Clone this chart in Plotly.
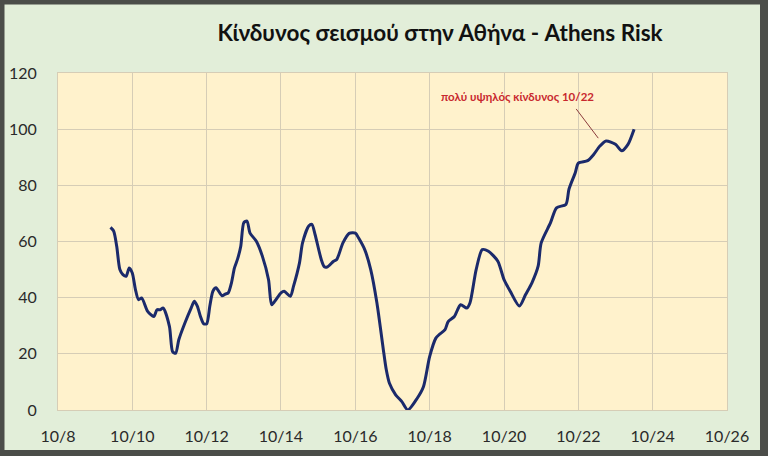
import plotly.graph_objects as go

dates = ["2010-03","2010-04","2010-05","2010-06","2010-07","2010-08","2010-09","2010-10","2010-11","2010-12",
         "2011-01","2011-03","2011-05","2011-06","2011-07","2011-08","2011-10","2011-11","2011-12",
         "2012-01","2012-03","2012-05","2012-06","2012-07","2012-08","2012-09","2012-10","2012-11","2012-12",
         "2013-01","2013-03","2013-04","2013-05","2013-06","2013-07","2013-08","2013-09","2013-10","2013-11","2013-12",
         "2014-02","2014-04","2014-06","2014-07","2014-08","2014-10","2014-11",
         "2015-01","2015-02","2015-04","2015-05","2015-07","2015-08","2015-09","2015-11","2015-12",
         "2016-01","2016-03","2016-04","2016-06","2016-08","2016-10","2016-11",
         "2017-01","2017-03","2017-05","2017-07","2017-08","2017-09","2017-11",
         "2018-01","2018-03","2018-06","2018-08","2018-10","2018-12",
         "2019-01","2019-03","2019-04","2019-06","2019-08","2019-10","2019-11",
         "2020-01","2020-03","2020-05","2020-08","2020-10","2020-12",
         "2021-03","2021-05","2021-07","2021-09","2021-10",
         "2022-01","2022-03","2022-06","2022-07","2022-09","2022-10","2023-01",
         "2023-03","2023-05","2023-07","2023-10","2023-12","2024-02","2024-04"]
risk = [65, 63.7, 58.3, 50, 48.2, 47.6, 50.6, 48.8, 42.9, 39.3,
        39.9, 35.1, 33.3, 35.7, 35.7, 36.3, 29.8, 20.8, 20.2,
        25, 31, 36.3, 38.7, 37, 33.3, 30.7, 30.7, 37, 42.3,
        43.5, 40.7, 41.3, 41.7, 45.2, 50.6, 53.8, 58.3, 66.7, 67.3, 63,
        60.1, 54.8, 46.4, 37.5, 38.7, 41.7, 42.3,
        40.5, 44, 52.4, 59.5, 65.5, 66.1, 62.5, 53.6, 51,
        51, 53, 53.6, 59.5, 62.9, 63, 61.3,
        57.1, 50, 38.1, 22, 14.3, 9.5, 5.4,
        3, 0, 4.2, 8.3, 19, 25.6,
        26.8, 28.6, 31.5, 33.3, 37.5, 36.3, 38.1,
        50, 57.1, 56.5, 53, 46.4, 42.3,
        37, 41.1, 45.2, 51.2, 59.5,
        66.7, 72, 73.2, 78.6, 84.5, 87.9, 88.8,
        91, 94, 95.8, 94.6, 92.3, 94.6, 100]

tick_vals = ["2008-10-01","2010-10-01","2012-10-01","2014-10-01","2016-10-01",
             "2018-10-01","2020-10-01","2022-10-01","2024-10-01","2026-10-01"]
tick_text = ["10/8","10/10","10/12","10/14","10/16","10/18","10/20","10/22","10/24","10/26"]

title = "Κίνδυνος σεισμού στην Αθήνα - Athens Risk"
note_text = "πολύ υψηλός κίνδυνος 10/22"
note_pos = ("2021-02-15", 111.5)
note_line = (("2022-09-10", 107.2), ("2023-04-15", 96.8))

grid = "#d6cdb6"
fig = go.Figure()
fig.add_trace(go.Scatter(x=dates, y=risk, mode="lines",
                         line=dict(color="#1b2a6b", width=3, shape="spline", smoothing=0.7),
                         hoverinfo="skip", showlegend=False))

fig.add_annotation(x=note_pos[0], y=note_pos[1], text=note_text, showarrow=False,
                   font=dict(family="Lato", size=11.5, color="#c8282e", weight="bold"))
fig.add_shape(type="line", xref="x", yref="y",
              x0=note_line[0][0], y0=note_line[0][1], x1=note_line[1][0], y1=note_line[1][1],
              line=dict(color="#8b3b3b", width=1))

W, H = 768, 456
ml, mr, mt, mb = 58, 41, 73, 46
pw, ph = W - ml - mr, H - mt - mb
X0, X1, Y0, Y1 = -ml / pw, 1 + mr / pw, -mb / ph, 1 + mt / ph
frame = "#4b4d49"
fig.add_shape(type="rect", xref="paper", yref="paper", layer="above",
              x0=X0, x1=X1, y0=Y0, y1=Y1,
              line=dict(color=frame, width=9), fillcolor="rgba(0,0,0,0)")
# thicker right and bottom edges
fig.add_shape(type="rect", xref="paper", yref="paper", layer="above",
              x0=X1 - 8 / pw, x1=X1, y0=Y0, y1=Y1, line=dict(width=0), fillcolor=frame)
fig.add_shape(type="rect", xref="paper", yref="paper", layer="above",
              x0=X0, x1=X1, y0=Y0, y1=Y0 + 6 / ph, line=dict(width=0), fillcolor=frame)

fig.update_layout(
    width=W, height=H,
    margin=dict(l=ml, r=mr, t=mt, b=mb, autoexpand=False),
    paper_bgcolor="#e2eed9",
    plot_bgcolor="#fff2cc",
    title=dict(text=title, x=440 / W, xref="container", y=1 - 33 / H, yref="container",
               xanchor="center", yanchor="middle",
               font=dict(family="Lato", size=22.5, color="#111111", weight="bold")),
    xaxis=dict(type="date", range=["2008-10-01", "2026-10-01"], automargin=False,
               tickvals=tick_vals, ticktext=tick_text,
               showgrid=True, gridcolor=grid, gridwidth=1,
               showline=True, linecolor=grid, mirror=True, zeroline=False,
               ticks="outside", ticklen=12, tickcolor="rgba(0,0,0,0)",
               tickfont=dict(family="Lato", size=16, color="#2a2a2a")),
    yaxis=dict(range=[0, 120], tickvals=[0, 20, 40, 60, 80, 100, 120], automargin=False,
               showgrid=True, gridcolor=grid, gridwidth=1,
               showline=True, linecolor=grid, mirror=True, zeroline=False,
               ticks="outside", ticklen=17, tickcolor="rgba(0,0,0,0)",
               tickfont=dict(family="Lato", size=16, color="#2a2a2a")),
)

fig.write_html("out.html", config={"displayModeBar": False},
               post_script="document.body.style.margin='0';")
